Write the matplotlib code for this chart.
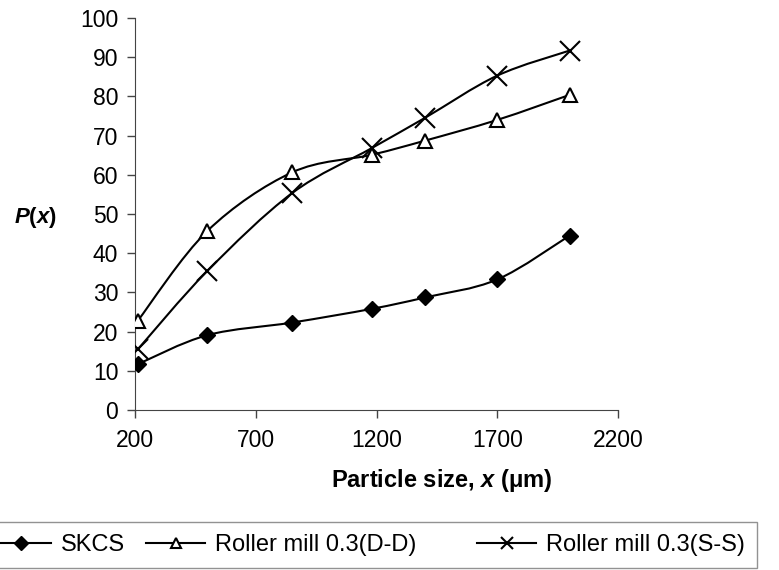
import matplotlib
matplotlib.use("Agg")
import matplotlib.pyplot as plt
from matplotlib.path import Path
from matplotlib.patches import PathPatch
from matplotlib.lines import Line2D
import numpy as np

plt.rcParams['font.family'] = ['Liberation Sans', 'DejaVu Sans']
plt.rcParams['mathtext.fontset'] = 'custom'
plt.rcParams['mathtext.it'] = 'Liberation Sans:bold:italic'
plt.rcParams['mathtext.rm'] = 'Liberation Sans:bold'

# data
size = [212, 500, 850, 1180, 1400, 1700, 2000]
skcs = [11.7, 19.1, 22.3, 25.8, 28.7, 33.3, 44.5]
roller_dd = [22.8, 45.7, 60.6, 65.1, 68.7, 74.0, 80.4]
roller_ss = [15.5, 35.5, 55.3, 66.8, 74.5, 85.3, 91.7]
labels = ["SKCS", "Roller mill 0.3(D-D)", "Roller mill 0.3(S-S)"]
xticks = [200, 700, 1200, 1700, 2200]
yticks = list(range(0, 101, 10))


def smooth_path(xs, ys):
    # Catmull-Rom curve through the points, as bezier segments
    p = np.column_stack([xs, ys]).astype(float)
    n = len(p)
    verts = [p[0]]
    codes = [Path.MOVETO]
    for i in range(n - 1):
        p0 = p[i - 1] if i > 0 else p[i]
        p3 = p[i + 2] if i + 2 < n else p[i + 1]
        c1 = p[i] + (p[i + 1] - p0) / 6
        c2 = p[i + 1] - (p3 - p[i]) / 6
        verts += [c1, c2, p[i + 1]]
        codes += [Path.CURVE4] * 3
    return Path(verts, codes)


fig = plt.figure(figsize=(7.79, 5.70), dpi=100)
ax = fig.add_axes([135 / 779, 1 - 410 / 570, 483 / 779, 392 / 570])

styles = [
    dict(marker="D", ms=8, mfc="black", mec="black"),
    dict(marker="^", ms=10, mfc="white", mec="black", mew=1.5),
    dict(marker="x", ms=14, mfc="none", mec="black", mew=1.5),
]
leg_ms = [7, 7, 9]
series = [skcs, roller_dd, roller_ss]

handles = []
for vals, st, lab, lms in zip(series, styles, labels, leg_ms):
    ax.add_patch(PathPatch(smooth_path(size, vals), fc="none", ec="black", lw=1.5, zorder=2))
    ax.plot(size, vals, ls="none", zorder=3, **st)
    hst = dict(st)
    hst["ms"] = lms
    handles.append(Line2D([], [], color="black", lw=1.5, label=lab, **hst))

ax.set_xlim(200, 2200)
ax.set_ylim(0, 100)
ax.set_xticks(xticks)
ax.set_yticks(yticks)
ax.tick_params(direction="out", length=6, width=1, labelsize=16.5, color="#444444")
ax.tick_params(axis="x", pad=8)
ax.tick_params(axis="y", pad=6)
for s in ["top", "right"]:
    ax.spines[s].set_visible(False)
for s in ["left", "bottom"]:
    ax.spines[s].set_color("#444444")

ax.set_xlabel(r"Particle size, $\mathit{x}$ ($\mathrm{\mu}$m)", fontsize=17, fontweight="bold")
ax.xaxis.set_label_coords(0.635, -0.145)
ax.set_ylabel(r"$\mathit{P}$($\mathit{x}$)", fontsize=16, fontweight="bold", rotation=0, ha="center", va="center")
ax.yaxis.set_label_coords(-0.206, 0.49)

# extra room after the middle entry, as in the original legend
leg_labels = [labels[0], labels[1] + "      ", labels[2]]
leg = fig.legend(handles, leg_labels, ncol=3, loc="upper right",
                 bbox_to_anchor=(757 / 779, 1 - 522 / 570), fontsize=17,
                 handlelength=2.5, columnspacing=0.9, handletextpad=0.42,
                 frameon=True, fancybox=False, borderpad=0.5, borderaxespad=0)
leg.get_frame().set_edgecolor("#777777")
leg.get_frame().set_linewidth(1.0)

fig.savefig("out.png", dpi=100)
